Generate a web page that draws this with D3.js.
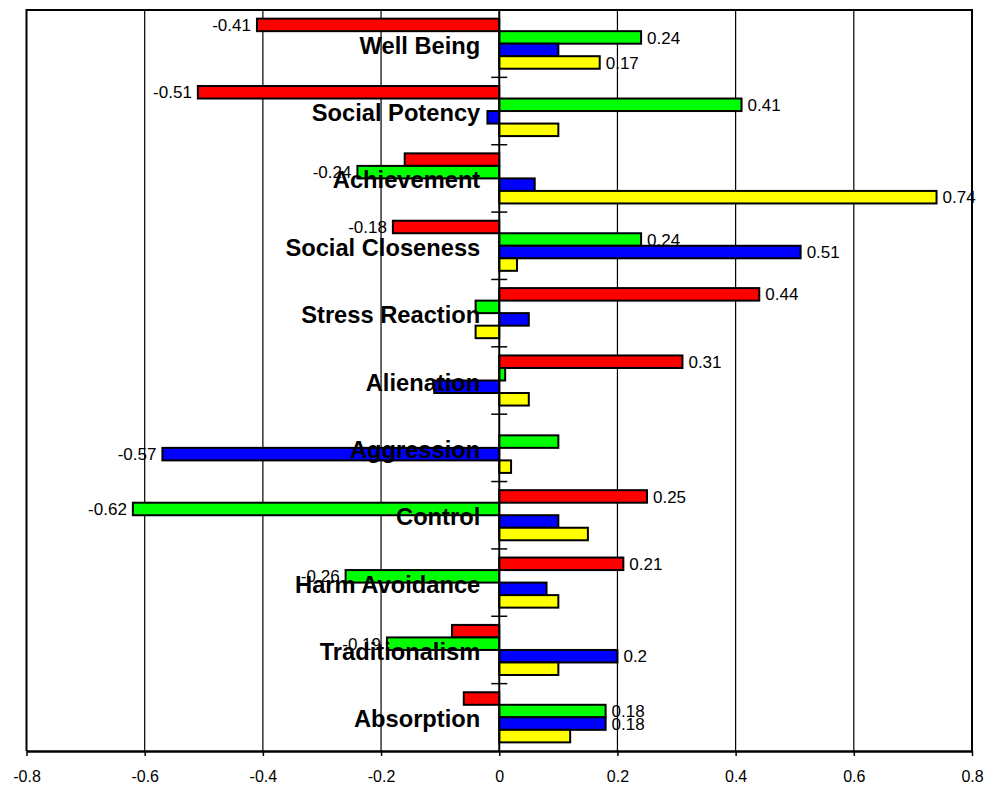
<!DOCTYPE html>
<html>
<head>
<meta charset="utf-8">
<script src="https://cdn.jsdelivr.net/npm/d3@7"></script>
<style>
  html, body { margin: 0; padding: 0; background: #fff; }
  svg { display: block; font-family: "Liberation Sans", Arial, sans-serif; }
</style>
</head>
<body>
<svg id="chart" width="986" height="788"></svg>
<script>
// Scale names (top to bottom)
const categories = [
  "Well Being", "Social Potency", "Achievement", "Social Closeness",
  "Stress Reaction", "Alienation", "Aggression", "Control",
  "Harm Avoidance", "Traditionalism", "Absorption"
];

// Four series per scale, drawn red, green, blue, yellow from top to bottom
const seriesNames = ["red", "green", "blue", "yellow"];
const redValues    = [-0.41, -0.51, -0.16, -0.18, 0.44, 0.31, 0.00, 0.25, 0.21, -0.08, -0.06];
const greenValues  = [ 0.24,  0.41, -0.24,  0.24, -0.04, 0.01, 0.10, -0.62, -0.26, -0.19, 0.18];
const blueValues   = [ 0.10, -0.02,  0.06,  0.51, 0.05, -0.11, -0.57, 0.10, 0.08, 0.20, 0.18];
const yellowValues = [ 0.17,  0.10,  0.74,  0.03, -0.04, 0.05, 0.02, 0.15, 0.10, 0.10, 0.12];
const seriesColors = ["#FF0000", "#00FF00", "#0000FF", "#FFFF00"];

// Axis ticks
const xTicks = [-0.8, -0.6, -0.4, -0.2, 0, 0.2, 0.4, 0.6, 0.8];
const xTickLabels = ["-0.8", "-0.6", "-0.4", "-0.2", "0", "0.2", "0.4", "0.6", "0.8"];

// Only the larger effects carry a value label
const labelThreshold = 0.17;

const seriesValues = [redValues, greenValues, blueValues, yellowValues];
const rows = [];
categories.forEach((c, i) => {
  seriesNames.forEach((s, j) => {
    rows.push({ category: c, series: s, value: seriesValues[j][i], color: seriesColors[j] });
  });
});

const svg = d3.select("#chart");
const plot = { left: 26.5, right: 972, top: 10, bottom: 751 };

const x = d3.scaleLinear().domain([-0.8, 0.8]).range([plot.left, plot.right]);
const y = d3.scaleBand().domain(categories).range([plot.top, plot.bottom]).padding(0);
const yInner = d3.scaleBand().domain(seriesNames)
  .range([0, y.bandwidth()]).paddingInner(0).paddingOuter(0.69);

// Vertical gridlines
svg.append("g")
  .selectAll("line")
  .data(xTicks.filter(t => t > -0.8 && t < 0.8 && t !== 0))
  .join("line")
  .attr("x1", d => x(d)).attr("x2", d => x(d))
  .attr("y1", plot.top).attr("y2", plot.bottom)
  .attr("stroke", "#000").attr("stroke-width", 1.2);

// Bars
svg.append("g")
  .selectAll("rect")
  .data(rows)
  .join("rect")
  .attr("x", d => Math.min(x(0), x(d.value)))
  .attr("width", d => Math.abs(x(d.value) - x(0)))
  .attr("y", d => y(d.category) + yInner(d.series))
  .attr("height", yInner.bandwidth())
  .attr("fill", d => d.color)
  .attr("stroke", "#000")
  .attr("stroke-width", 2)
  .attr("display", d => d.value === 0 ? "none" : null);

// Frame (top, left, right)
svg.append("path")
  .attr("d", `M${plot.left},${plot.bottom} V${plot.top} H${plot.right} V${plot.bottom}`)
  .attr("fill", "none").attr("stroke", "#000").attr("stroke-width", 2);

// Category axis at zero with cross ticks between scales
const x0 = x(0);
svg.append("line")
  .attr("x1", x0).attr("x2", x0)
  .attr("y1", plot.top).attr("y2", plot.bottom)
  .attr("stroke", "#000").attr("stroke-width", 2);
svg.append("g")
  .selectAll("line")
  .data(categories.slice(1))
  .join("line")
  .attr("x1", x0 - 8).attr("x2", x0 + 8)
  .attr("y1", d => y(d)).attr("y2", d => y(d))
  .attr("stroke", "#000").attr("stroke-width", 1.5);

// Bottom value axis
const xAxis = d3.axisBottom(x)
  .tickValues(xTicks)
  .tickFormat((d, i) => xTickLabels[i])
  .tickSize(5)
  .tickSizeOuter(0);
const axisG = svg.append("g")
  .attr("transform", `translate(0,${plot.bottom})`)
  .call(xAxis);
axisG.select(".domain").attr("stroke", "#000").attr("stroke-width", 2.5);
axisG.selectAll(".tick line").attr("stroke", "#000").attr("stroke-width", 1.5);
axisG.selectAll(".tick text")
  .attr("y", 20)
  .attr("font-size", 16)
  .attr("font-family", "Liberation Sans, Arial, sans-serif")
  .attr("fill", "#000");

// Value labels
svg.append("g")
  .selectAll("text")
  .data(rows.filter(d => Math.abs(d.value) >= labelThreshold))
  .join("text")
  .attr("x", d => d.value >= 0 ? x(d.value) + 6 : x(d.value) - 6)
  .attr("y", d => y(d.category) + yInner(d.series) + yInner.bandwidth() / 2)
  .attr("dy", "0.36em")
  .attr("text-anchor", d => d.value >= 0 ? "start" : "end")
  .attr("font-size", 17)
  .attr("fill", "#000")
  .text(d => String(+d.value.toFixed(2)));

// Category labels, right-aligned just left of the zero axis
svg.append("g")
  .selectAll("text")
  .data(categories)
  .join("text")
  .attr("x", x0 - 19)
  .attr("y", d => y(d) + y.bandwidth() / 2 + 10)
  .attr("text-anchor", "end")
  .attr("font-size", 23.7)
  .attr("font-weight", "bold")
  .attr("fill", "#000")
  .text(d => d);
</script>
</body>
</html>
